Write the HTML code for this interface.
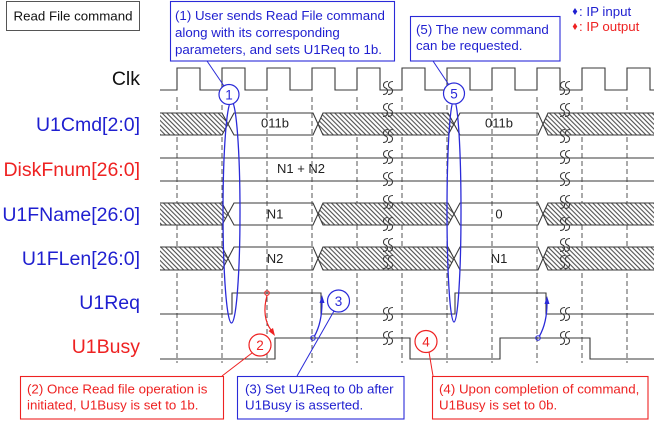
<!DOCTYPE html>
<html><head><meta charset="utf-8"><style>html,body{margin:0;padding:0;background:#fff}svg{display:block}</style></head>
<body>
<svg width="658" height="421" viewBox="0 0 658 421" xmlns="http://www.w3.org/2000/svg" font-family="'Liberation Sans', Arial, sans-serif">
<defs>
<pattern id="h" patternUnits="userSpaceOnUse" width="3.3" height="3.3" patternTransform="rotate(-45)">
<rect width="3.3" height="3.3" fill="#fff"/>
<line x1="1.65" y1="-1" x2="1.65" y2="5" stroke="#333" stroke-width="0.95"/>
</pattern>
<g id="brk" fill="none" stroke="#3a3a3a" stroke-width="1.1">
<path d="M0,-6.5 C-5.5,-6.5 -5.5,-1 -2.5,0 C0.5,1 0.5,6.5 -5,6.5"/>
<path d="M5,-6.5 C-0.5,-6.5 -0.5,-1 2.5,0 C5.5,1 5.5,6.5 0,6.5"/>
</g>
</defs>

<!-- dashed gridlines -->
<g stroke="#555" stroke-width="1" stroke-dasharray="5 3">
<line x1="177" y1="97" x2="177" y2="363"/>
<line x1="222" y1="97" x2="222" y2="363"/>
<line x1="267" y1="97" x2="267" y2="363"/>
<line x1="312" y1="97" x2="312" y2="363"/>
<line x1="357" y1="97" x2="357" y2="363"/>
<line x1="402" y1="97" x2="402" y2="363"/>
<line x1="447" y1="97" x2="447" y2="363"/>
<line x1="492" y1="97" x2="492" y2="363"/>
<line x1="537" y1="97" x2="537" y2="363"/>
<line x1="582" y1="97" x2="582" y2="363"/>
<line x1="627" y1="97" x2="627" y2="363"/>
</g>

<!-- Read File command box -->
<rect x="6.5" y="1.5" width="133" height="29" fill="#fff" stroke="#555" stroke-width="1"/>
<text x="73" y="20.5" font-size="13.3" text-anchor="middle" fill="#111">Read File command</text>

<!-- legend -->
<polygon points="575,8 577.3,11.5 575,15 572.7,11.5" fill="#1f1fd0"/>
<text x="579" y="16" font-size="13.3" fill="#1f1fd0">: IP input</text>
<polygon points="575,23 577.3,26.5 575,30 572.7,26.5" fill="#ee2222"/>
<text x="579" y="31" font-size="13.3" fill="#ee2222">: IP output</text>

<!-- signal labels -->
<g font-size="19.5" text-anchor="end">
<text x="140" y="85" fill="#111">Clk</text>
<text x="140" y="131" fill="#1f1fd0">U1Cmd[2:0]</text>
<text x="140" y="176" fill="#ee2222">DiskFnum[26:0]</text>
<text x="140" y="221" fill="#1f1fd0">U1FName[26:0]</text>
<text x="140" y="265" fill="#1f1fd0">U1FLen[26:0]</text>
<text x="140" y="309" fill="#1f1fd0">U1Req</text>
<text x="140" y="353" fill="#ee2222">U1Busy</text>
</g>

<!-- clock -->
<path d="M160,90 H177 V68 H200 V90 H222 V68 H245 V90 H267 V68 H290 V90 H312 V68 H335 V90 H357 V68 H380 V90 H402 V68 H425 V90 H447 V68 H470 V90 H492 V68 H515 V90 H537 V68 H560 V90 H582 V68 H605 V90 H627 V68 H650 V90 H654" fill="none" stroke="#3a3a3a" stroke-width="1.1"/>

<!-- buses hatch -->
<g fill="url(#h)" stroke="none">
<polygon points="160,113 222,113 228,124 222,135 160,135"/>
<polygon points="323,113 448,113 454,124 448,135 323,135 318,124"/>
<polygon points="548,113 654,113 654,135 548,135 543,124"/>
<polygon points="160,203 222,203 228,214 222,225 160,225"/>
<polygon points="323,203 448,203 454,214 448,225 323,225 318,214"/>
<polygon points="548,203 654,203 654,225 548,225 543,214"/>
<polygon points="160,247 222,247 228,258.5 222,270 160,270"/>
<polygon points="323,247 448,247 454,258.5 448,270 323,270 318,258.5"/>
<polygon points="548,247 654,247 654,270 548,270 543,258.5"/>
</g>
<g fill="none" stroke="#3a3a3a" stroke-width="1.1">
<path d="M160,113 H222 L234,135 H313 L323,113 H448 L460,135 H538 L548,113 H654"/>
<path d="M160,135 H222 L234,113 H313 L323,135 H448 L460,113 H538 L548,135 H654"/>
<path d="M160,158 H654"/>
<path d="M160,181 H654"/>
<path d="M160,203 H222 L234,225 H313 L323,203 H448 L460,225 H538 L548,203 H654"/>
<path d="M160,225 H222 L234,203 H313 L323,225 H448 L460,203 H538 L548,225 H654"/>
<path d="M160,247 H222 L234,270 H313 L323,247 H448 L460,270 H538 L548,247 H654"/>
<path d="M160,270 H222 L234,247 H313 L323,270 H448 L460,247 H538 L548,270 H654"/>
<!-- U1Req -->
<path d="M160,314 H232 V293 H321 V314 H455 V293 H546 V314 H654"/>
<!-- U1Busy -->
<path d="M160,359 H275 V338 H410 V359 H500 V338 H590 V359 H654"/>
</g>

<!-- data labels -->
<g font-size="13" fill="#222" text-anchor="middle">
<text x="275" y="127.5">011b</text>
<text x="301" y="173">N1 + N2</text>
<text x="275" y="218.5">N1</text>
<text x="275" y="263">N2</text>
<text x="499" y="127.5">011b</text>
<text x="499" y="218.5">0</text>
<text x="499" y="263">N1</text>
</g>

<!-- break symbols -->
<use href="#brk" x="388" y="88"/>
<use href="#brk" x="388" y="110"/>
<use href="#brk" x="388" y="136"/>
<use href="#brk" x="388" y="157"/>
<use href="#brk" x="388" y="179"/>
<use href="#brk" x="388" y="202"/>
<use href="#brk" x="388" y="224"/>
<use href="#brk" x="388" y="245"/>
<use href="#brk" x="388" y="262"/>
<use href="#brk" x="388" y="314"/>
<use href="#brk" x="388" y="338"/>
<use href="#brk" x="565" y="88"/>
<use href="#brk" x="565" y="110"/>
<use href="#brk" x="565" y="136"/>
<use href="#brk" x="565" y="157"/>
<use href="#brk" x="565" y="179"/>
<use href="#brk" x="565" y="202"/>
<use href="#brk" x="565" y="224"/>
<use href="#brk" x="565" y="245"/>
<use href="#brk" x="565" y="262"/>
<use href="#brk" x="565" y="314"/>
<use href="#brk" x="565" y="338"/>

<!-- ellipses -->
<ellipse cx="231.5" cy="212" rx="8.5" ry="111" fill="none" stroke="#2a2ad8" stroke-width="1.3"/>
<ellipse cx="454" cy="211" rx="7" ry="111" fill="none" stroke="#2a2ad8" stroke-width="1.3"/>

<!-- arrows -->
<circle cx="267" cy="293" r="2.3" fill="none" stroke="#ee2222" stroke-width="1"/>
<path d="M267,295.5 C263,310 265,322 271,330" fill="none" stroke="#ee2222" stroke-width="1.2"/>
<polygon points="275,336 268.5,331 273,328" fill="#ee2222"/>

<circle cx="313" cy="338" r="2.3" fill="none" stroke="#2a2ad8" stroke-width="1"/>
<path d="M314.5,336 C319,328 322,318 322,302" fill="none" stroke="#2a2ad8" stroke-width="1.3"/>
<polygon points="322,295 319.5,303 324.5,303" fill="#2a2ad8"/>

<circle cx="538" cy="338" r="2.3" fill="none" stroke="#2a2ad8" stroke-width="1"/>
<path d="M539.5,336 C544,328 547,318 547,303" fill="none" stroke="#2a2ad8" stroke-width="1.3"/>
<polygon points="547,296 544.5,304 549.5,304" fill="#2a2ad8"/>

<!-- callout pointer lines -->
<g stroke-width="1">
<line x1="207" y1="61" x2="224" y2="86" stroke="#2a2ad8"/>
<line x1="433" y1="61" x2="449" y2="85" stroke="#2a2ad8"/>
<line x1="222" y1="376" x2="252" y2="353" stroke="#ee2222"/>
<line x1="297" y1="376" x2="334" y2="311" stroke="#2a2ad8"/>
<line x1="433" y1="376" x2="429" y2="352" stroke="#ee2222"/>
</g>

<!-- numbered circles -->
<g font-size="13.5" text-anchor="middle">
<circle cx="229" cy="94.5" r="10" fill="#fff" stroke="#2a2ad8" stroke-width="1.2"/>
<text x="229" y="99.5" fill="#2a2ad8">1</text>
<circle cx="454" cy="93.5" r="10.5" fill="#fff" stroke="#2a2ad8" stroke-width="1.2"/>
<text x="454" y="98.5" fill="#2a2ad8">5</text>
<circle cx="260" cy="345" r="11" fill="#fff" stroke="#ee2222" stroke-width="1.2"/>
<text x="260" y="350" fill="#ee2222">2</text>
<circle cx="338.5" cy="301" r="11" fill="#fff" stroke="#2a2ad8" stroke-width="1.2"/>
<text x="338.5" y="306" fill="#2a2ad8">3</text>
<circle cx="426" cy="341.5" r="11" fill="#fff" stroke="#ee2222" stroke-width="1.2"/>
<text x="426" y="346.5" fill="#ee2222">4</text>
</g>

<!-- callout boxes -->
<g font-size="13.3">
<rect x="170.5" y="1.5" width="224" height="59.5" fill="#fff" stroke="#2a2ad8" stroke-width="1.1"/>
<text x="175" y="20" fill="#1f1fd0">(1) User sends Read File command</text>
<text x="175" y="37" fill="#1f1fd0">along with its corresponding</text>
<text x="175" y="54" fill="#1f1fd0">parameters, and sets U1Req to 1b.</text>

<rect x="410.5" y="16.5" width="149.5" height="44.5" fill="#fff" stroke="#2a2ad8" stroke-width="1.1"/>
<text x="416" y="34" fill="#1f1fd0">(5) The new command</text>
<text x="416" y="50" fill="#1f1fd0">can be requested.</text>

<rect x="20.5" y="376.5" width="203" height="42.5" fill="#fff" stroke="#ee2222" stroke-width="1.1"/>
<text x="27" y="393.5" fill="#ee2222">(2) Once Read file operation is</text>
<text x="27" y="409.5" fill="#ee2222">initiated, U1Busy is set to 1b.</text>

<rect x="237.5" y="376.5" width="166.5" height="42.5" fill="#fff" stroke="#2a2ad8" stroke-width="1.1"/>
<text x="245" y="393.5" fill="#1f1fd0">(3) Set U1Req to 0b after</text>
<text x="245" y="409.5" fill="#1f1fd0">U1Busy is asserted.</text>

<rect x="432.5" y="376.5" width="215.5" height="42.5" fill="#fff" stroke="#ee2222" stroke-width="1.1"/>
<text x="439" y="393.5" fill="#ee2222">(4) Upon completion of command,</text>
<text x="439" y="409.5" fill="#ee2222">U1Busy is set to 0b.</text>
</g>
</svg>
</body></html>
